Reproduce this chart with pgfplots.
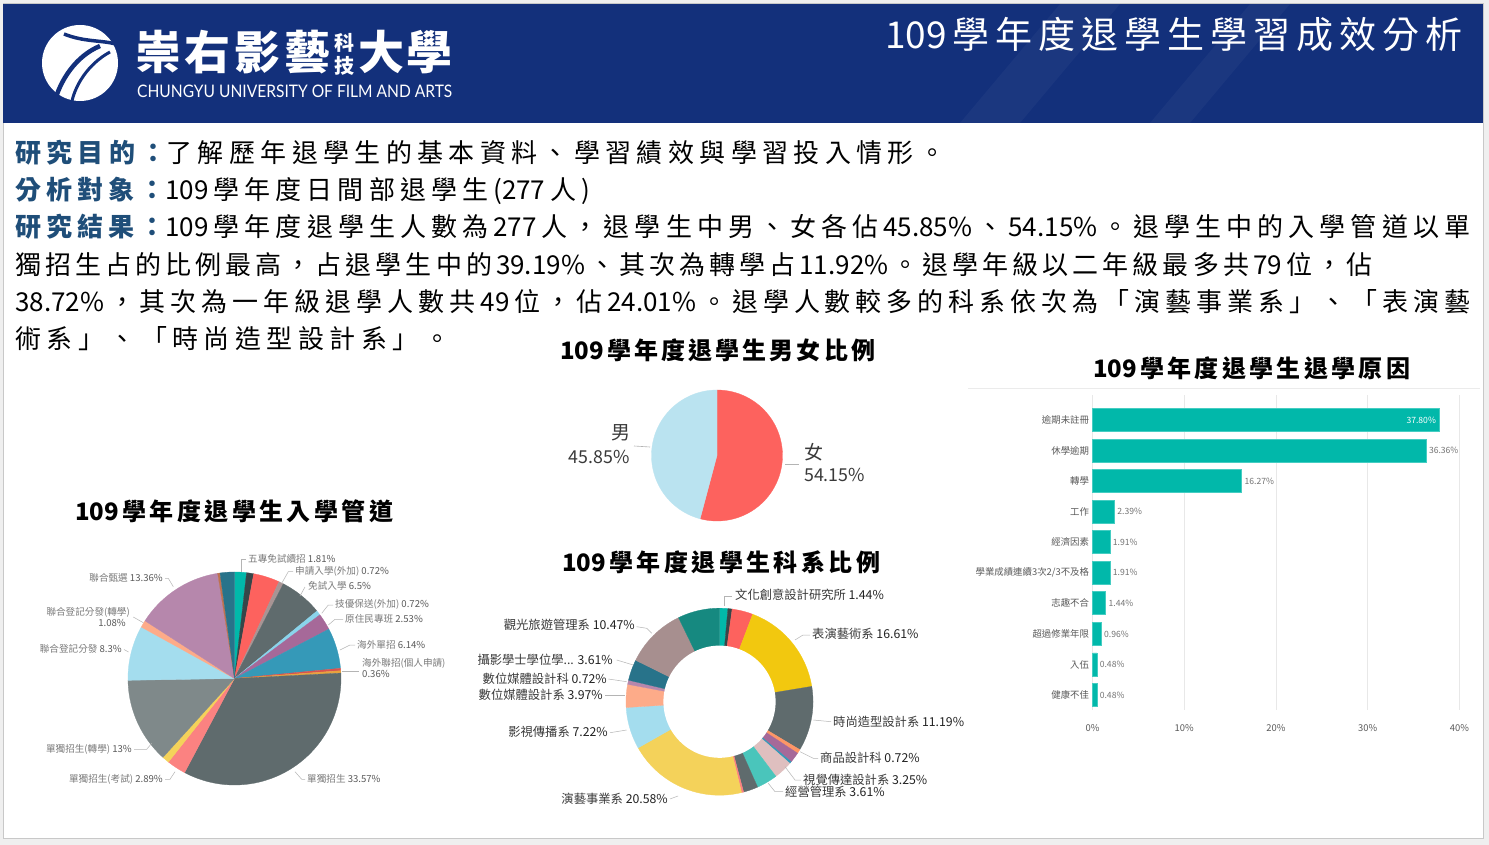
\documentclass[border=0pt]{standalone}
\usepackage{pgfplots}
\pgfplotsset{compat=1.18}
\usepackage{pgfplotstable}
\usepackage{fontspec}
\setmainfont{Noto Sans CJK TC}
\newfontfamily\latofont{Lato}

% inter-character stretch glue for CJK lines
\newXeTeXintercharclass\CJKc
\newcount\cjkcnt
\newcommand\setcjkrange[2]{\cjkcnt=#1 \loop\XeTeXcharclass\cjkcnt=\CJKc\advance\cjkcnt by 1 \ifnum\cjkcnt<#2 \repeat}
\setcjkrange{"3000}{"3040}
\setcjkrange{"4E00}{"A000}
\setcjkrange{"FF00}{"FF60}
\XeTeXinterchartoks\CJKc\CJKc={\hskip0pt plus 1fil\relax}
\XeTeXinterchartoks 0 \CJKc={\hskip0pt plus 1fil\relax}
\XeTeXinterchartoks\CJKc 0={\hskip0pt plus 1fil\relax}
\newcommand\spaced[2]{\hbox to #1{\XeTeXinterchartokenstate=1 #2}}

\definecolor{navy}{HTML}{13307B}
\definecolor{lblue}{HTML}{1F4E79}
\definecolor{pagegray}{HTML}{EFEFEF}
\definecolor{bordergray}{HTML}{C8C8C8}
\definecolor{lead}{HTML}{B4B4B4}
\definecolor{egray}{HTML}{7A7A7A}
\definecolor{enum}{HTML}{5A5A5A}
\definecolor{dtxt}{HTML}{3A3A3A}
\definecolor{dnum}{HTML}{222222}
\definecolor{barc}{HTML}{01B8AA}
\definecolor{barl}{HTML}{45CDC2}
% entry pie colours
\definecolor{ea}{HTML}{01B8AA}\definecolor{eb}{HTML}{374649}\definecolor{ec}{HTML}{FD625E}
\definecolor{ed}{HTML}{A89494}\definecolor{ee}{HTML}{5F6B6D}\definecolor{ef}{HTML}{8AD4EB}
\definecolor{eg}{HTML}{A66999}\definecolor{eh}{HTML}{3599B8}\definecolor{ei}{HTML}{D9534F}
\definecolor{ej}{HTML}{E8A33D}\definecolor{ek}{HTML}{5F6B6D}\definecolor{el}{HTML}{FB8281}
\definecolor{em}{HTML}{F4D25A}\definecolor{en}{HTML}{7F898A}\definecolor{eo}{HTML}{A4DDEE}
\definecolor{ep}{HTML}{FDAB89}\definecolor{eq}{HTML}{B687AC}\definecolor{er}{HTML}{BD7150}
\definecolor{es}{HTML}{28738A}
% department donut colours
\definecolor{da}{HTML}{01B8AA}\definecolor{db}{HTML}{374649}\definecolor{dc}{HTML}{FD625E}
\definecolor{dd}{HTML}{F2C80F}\definecolor{de}{HTML}{5F6B6D}\definecolor{df}{HTML}{FE9666}
\definecolor{dg}{HTML}{A66999}\definecolor{dh}{HTML}{3599B8}\definecolor{di}{HTML}{DFBFBF}
\definecolor{dj}{HTML}{4AC5BB}\definecolor{dk}{HTML}{5F6B6D}\definecolor{dl}{HTML}{FB8281}
\definecolor{dm}{HTML}{F4D25A}\definecolor{dn}{HTML}{A4DDEE}\definecolor{do}{HTML}{FDAB89}
\definecolor{dp}{HTML}{B687AC}\definecolor{dq}{HTML}{28738A}\definecolor{dr}{HTML}{A78F8F}
\definecolor{ds}{HTML}{168980}
\definecolor{gf}{HTML}{FD625E}\definecolor{gm}{HTML}{BAE3F0}

\pgfplotstableread{
value color
54.15 gf
45.85 gm
}\genderTable

\pgfplotstableread{
value color
1.81 ea
1.08 eb
3.97 ec
0.72 ed
6.50 ee
0.72 ef
2.53 eg
6.14 eh
0.36 ei
0.36 ej
33.57 ek
2.89 el
1.08 em
13.00 en
8.30 eo
1.08 ep
13.36 eq
0.36 er
2.17 es
}\entryTable

\pgfplotstableread{
value color
1.44 da
0.72 db
3.61 dc
16.61 dd
11.19 de
0.72 df
1.81 dg
0.36 dh
3.25 di
3.61 dj
2.53 dk
0.36 dl
20.58 dm
7.22 dn
3.97 do
0.72 dp
3.61 dq
10.47 dr
7.22 ds
}\deptTable

\pgfplotstableread{
idx value
0 37.80
1 36.36
2 16.27
3 2.39
4 1.91
5 1.91
6 1.44
7 0.96
8 0.48
9 0.48
}\barTable

\newcommand\drawpie[1]{%
  \gdef\pieacc{90}%
  \pgfplotstablegetrowsof{#1}%
  \pgfmathtruncatemacro\pielast{\pgfplotsretval-1}%
  \pgfplotsforeachungrouped \i in {0,...,\pielast}{%
    \pgfplotstablegetelem{\i}{value}\of{#1}\let\pv\pgfplotsretval
    \pgfplotstablegetelem{\i}{color}\of{#1}\let\pc\pgfplotsretval
    \pgfmathsetmacro\pieend{\pieacc-3.6*\pv}%
    \edef\doslice{\noexpand\addplot[fill=\pc, draw=\pc, line width=0.3pt, domain=\pieend:\pieacc, samples=60, forget plot] ({cos(x)},{sin(x)}) -- (axis cs:0,0) -- cycle;}%
    \doslice
    \global\let\pieacc\pieend
  }%
}

\pgfplotsset{pie/.style={scale only axis, hide axis, xmin=-1, xmax=1, ymin=-1, ymax=1, clip=false, anchor=center}}

\newcommand\en[1]{\textcolor{enum}{#1}}
\newcommand\dn[1]{\textcolor{dnum}{#1}}

\begin{document}
\begin{tikzpicture}[x=1pt,y=-1pt]
% page
\fill[pagegray] (0,0) rectangle (1489,845);
\fill[white] (3,3) rectangle (1483,838);
\draw[bordergray, line width=0.8pt] (3,3) rectangle (1483,838);
% header
\fill[navy] (3,4) rectangle (1483,123);
\fill[white, opacity=0.035] (960,123) -- (1060,4) -- (1120,4) -- (1020,123) -- cycle;
\fill[white, opacity=0.035] (1150,123) -- (1250,4) -- (1290,4) -- (1190,123) -- cycle;
% logo
\fill[white] (80,63) circle (38pt);
\draw[navy, line width=3.5pt] (64,34) .. controls (84,42) and (100,40) .. (116,44);
\draw[navy, line width=4.5pt] (100,46) .. controls (76,56) and (60,80) .. (54,104);
\draw[navy, line width=3pt] (110,52) .. controls (88,64) and (74,86) .. (71,106);
\node[anchor=base west, inner sep=0, text=white] at (135,70) {\fontsize{46}{46}\selectfont\bfseries\hbox to 195pt{崇\hfil 右\hfil 影\hfil 藝}};
\node[anchor=center, inner sep=0, text=white] at (344.5,43) {\fontsize{20}{20}\selectfont\bfseries 科};
\node[anchor=center, inner sep=0, text=white] at (344.5,65.5) {\fontsize{20}{20}\selectfont\bfseries 技};
\node[anchor=base west, inner sep=0, text=white] at (358,70) {\fontsize{46}{46}\selectfont\bfseries\hbox to 94pt{大\hfil 學}};
\node[anchor=west, inner sep=0, text=white] at (137,91.5) {\resizebox{315pt}{12.5pt}{\latofont CHUNGYU UNIVERSITY OF FILM AND ARTS}};
\node[anchor=base west, inner sep=0, text=white] at (885,49) {\fontsize{37}{40}\selectfont\spaced{577pt}{109學年度退學生學習成效分析}};

% body text
\begin{scope}[every node/.style={anchor=base west, inner sep=0, font=\fontsize{26}{30}\selectfont}]
\node at (15,163) {\spaced{930pt}{\textcolor{lblue}{\bfseries 研究目的：}了解歷年退學生的基本資料、學習績效與學習投入情形。}};
\node at (15,200) {\spaced{575pt}{\textcolor{lblue}{\bfseries 分析對象：}109學年度日間部退學生(277人)}};
\node at (15,237) {\spaced{1455pt}{\textcolor{lblue}{\bfseries 研究結果：}109學年度退學生人數為277人，退學生中男、女各佔45.85\%、54.15\%。退學生中的入學管道以單}};
\node at (15,274) {\spaced{1357pt}{獨招生占的比例最高，占退學生中的39.19\%、其次為轉學占11.92\%。退學年級以二年級最多共79位，佔}};
\node at (15,311) {\spaced{1455pt}{38.72\%，其次為一年級退學人數共49位，佔24.01\%。退學人數較多的科系依次為「演藝事業系」、「表演藝}};
\node at (15,348) {\spaced{435pt}{術系」、「時尚造型設計系」。}};
\end{scope}

% chart titles
\begin{scope}[every node/.style={anchor=base west, inner sep=0, font=\fontsize{24}{26}\selectfont\bfseries}]
\node at (560,359) {\spaced{315pt}{109學年度退學生男女比例}};
\node at (1093,377) {\spaced{317pt}{109學年度退學生退學原因}};
\node at (75,520) {\spaced{318pt}{109學年度退學生入學管道}};
\node at (562,571) {\spaced{318pt}{109學年度退學生科系比例}};
\end{scope}

% gender pie
\begin{axis}[pie, at={(717pt,-455.5pt)}, width=131pt, height=131pt]
\drawpie{\genderTable}
\end{axis}
\draw[lead, line width=0.6pt] (634,446) -- (650,447);
\draw[lead, line width=0.6pt] (785,464.5) -- (799,464.5);
\begin{scope}[every node/.style={inner sep=0, text=dtxt}]
\node at (621,433) {\fontsize{19}{20}\selectfont 男};
\node at (599,456.5) {\fontsize{17.8}{19}\selectfont 45.85\%};
\node at (813.5,452.5) {\fontsize{19}{20}\selectfont 女};
\node[anchor=west] at (804,475) {\fontsize{17.8}{19}\selectfont 54.15\%};
\end{scope}

% entry pie
\begin{axis}[pie, at={(234.5pt,-678.5pt)}, width=213pt, height=213pt]
\drawpie{\entryTable}
\end{axis}
\begin{scope}[lead, line width=0.5pt]
\draw (241.7,572) -- (241.7,559.5) -- (246,559.5);
\draw (281.7,583.3) -- (288.3,571.7) -- (293,571.7);
\draw (300,596) -- (305,587);
\draw (321.7,613.3) -- (328.3,605) -- (333,605);
\draw (328.3,625) -- (335,619.3) -- (343,619.3);
\draw (340,650) -- (350,645) -- (355,645);
\draw (341.7,671.7) -- (359,671.7);
\draw (295,771.7) -- (301.7,779.3) -- (305,779.3);
\draw (175,771.7) -- (170,779.3) -- (165,779.3);
\draw (151.7,743.3) -- (146.7,749.3) -- (134,749.3);
\draw (128.5,652) -- (124,649.5);
\draw (143.3,622.7) -- (133.3,617);
\draw (173.3,586.7) -- (168.3,578.3) -- (165,578.3);
\end{scope}
\begin{scope}[every node/.style={inner sep=0, text=egray, font=\fontsize{9.6}{11}\selectfont}]
\node[anchor=west] at (248,559) {五專免試續招 \en{1.81\%}};
\node[anchor=west] at (295,571.5) {申請入學(外加) \en{0.72\%}};
\node[anchor=west] at (308,586) {免試入學 \en{6.5\%}};
\node[anchor=west] at (335,604) {技優保送(外加) \en{0.72\%}};
\node[anchor=west] at (345,619) {原住民專班 \en{2.53\%}};
\node[anchor=west] at (357,645) {海外單招 \en{6.14\%}};
\node[anchor=west] at (362,663) {海外聯招(個人申請)};
\node[anchor=west] at (362,674) {\en{0.36\%}};
\node[anchor=west] at (307,779) {單獨招生 \en{33.57\%}};
\node[anchor=east] at (163,779) {單獨招生(考試) \en{2.89\%}};
\node[anchor=east] at (132,749) {單獨招生(轉學) \en{13\%}};
\node[anchor=east] at (122,649) {聯合登記分發 \en{8.3\%}};
\node[anchor=east] at (130,612) {聯合登記分發(轉學)};
\node[anchor=east] at (126,623) {\en{1.08\%}};
\node[anchor=east] at (163,578) {聯合甄選 \en{13.36\%}};
\end{scope}

% department donut
\begin{axis}[pie, at={(719.5pt,-701.7pt)}, width=187pt, height=187pt]
\drawpie{\deptTable}
\addplot[fill=white, draw=none, domain=0:360, samples=120, forget plot] ({0.6*cos(x)},{0.6*sin(x)}) -- cycle;
\end{axis}
\begin{scope}[lead, line width=0.5pt]
\draw (724,606) -- (724,596) -- (732,596);
\draw (795,640) -- (803,635) -- (810,635);
\draw (813.3,720) -- (831,721.7);
\draw (800,751.7) -- (813.3,758.3) -- (818,758.3);
\draw (785,766.7) -- (795,780) -- (801,780);
\draw (768.3,783.3) -- (775,791.7) -- (783,791.7);
\draw (670,799) -- (678,796);
\draw (610,732.7) -- (626.7,730);
\draw (605,695) -- (625,695);
\draw (608.3,679) -- (626.7,681.7);
\draw (616.7,660) -- (633.3,665);
\draw (636.7,626.7) -- (646.7,628.3) -- (651.7,633.3);
\end{scope}
\begin{scope}[every node/.style={inner sep=0, text=dtxt, font=\fontsize{12.3}{14}\selectfont}]
\node[anchor=west] at (735,595) {文化創意設計研究所 \dn{1.44\%}};
\node[anchor=west] at (812,634) {表演藝術系 \dn{16.61\%}};
\node[anchor=west] at (833,722) {時尚造型設計系 \dn{11.19\%}};
\node[anchor=west] at (820,758) {商品設計科 \dn{0.72\%}};
\node[anchor=west] at (803,780) {視覺傳達設計系 \dn{3.25\%}};
\node[anchor=west] at (785,792) {經營管理系 \dn{3.61\%}};
\node[anchor=east] at (668,799) {演藝事業系 \dn{20.58\%}};
\node[anchor=east] at (608,732) {影視傳播系 \dn{7.22\%}};
\node[anchor=east] at (603,695) {數位媒體設計系 \dn{3.97\%}};
\node[anchor=east] at (607,679) {數位媒體設計科 \dn{0.72\%}};
\node[anchor=east] at (613,660) {攝影學士學位學... \dn{3.61\%}};
\node[anchor=east] at (635,625) {觀光旅遊管理系 \dn{10.47\%}};
\end{scope}

% withdrawal reasons bar chart
\draw[black!8, line width=0.6pt] (968,388) -- (1480,388);
\begin{axis}[at={(1092.5pt,-710pt)}, anchor=south west, scale only axis,
  width=367pt, height=315pt,
  xmin=0, xmax=40, ymin=-0.82, ymax=9.49, y dir=reverse,
  ytick={0,...,9},
  yticklabels={逾期未註冊,休學逾期,轉學,工作,經濟因素,學業成績連續3次2/3不及格,志趣不合,超過修業年限,入伍,健康不佳},
  xtick={0,10,20,30,40},
  xticklabels={0\%,10\%,20\%,30\%,40\%},
  xmajorgrids, grid style={draw=black!9, line width=0.6pt},
  axis line style={draw=none}, major tick length=0pt,
  yticklabel style={font=\fontsize{9.4}{11}\selectfont, text=black!65},
  xticklabel style={font=\fontsize{9.4}{11}\selectfont, text=black!65, yshift=-11pt},
  clip=false]
\addplot[xbar, bar shift=0pt, bar width=23pt, fill=barc, draw=barl, line width=0.8pt,
  restrict y to domain=0.5:9.5, point meta=x,
  nodes near coords={\pgfmathprintnumber[fixed, fixed zerofill, precision=2, assume math mode=true]{\pgfplotspointmeta}\%},
  nodes near coords style={font=\fontsize{8.6}{10}\selectfont, text=black!55, anchor=west, inner sep=2.5pt}]
  table[x=value, y=idx] {\barTable};
\addplot[xbar, bar shift=0pt, bar width=23pt, fill=barc, draw=barl, line width=0.8pt,
  restrict y to domain=-0.5:0.5, point meta=x,
  nodes near coords={\pgfmathprintnumber[fixed, fixed zerofill, precision=2, assume math mode=true]{\pgfplotspointmeta}\%},
  nodes near coords style={font=\fontsize{8.6}{10}\selectfont, text=white, anchor=east, inner sep=3pt}]
  table[x=value, y=idx] {\barTable};
\end{axis}
\end{tikzpicture}
\end{document}
